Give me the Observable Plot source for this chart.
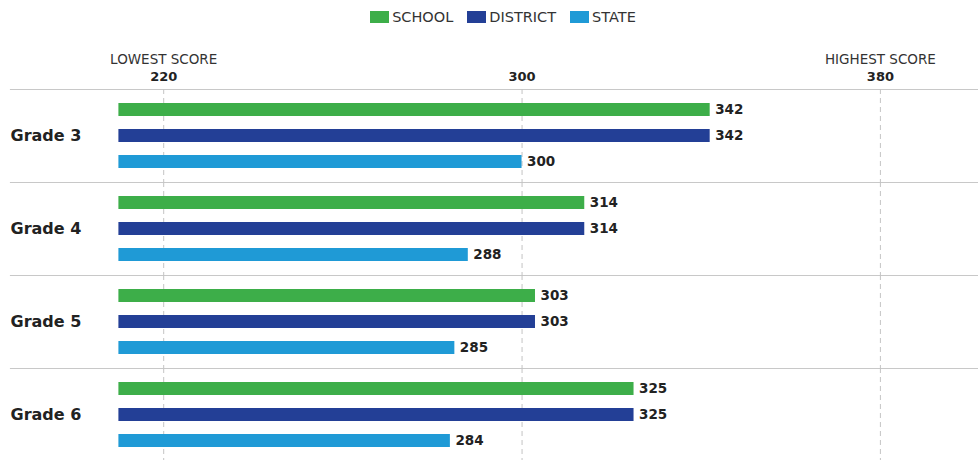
<!DOCTYPE html>
<html>
<head>
<meta charset="utf-8">
<script src="https://cdn.jsdelivr.net/npm/d3@7"></script>
<script src="https://cdn.jsdelivr.net/npm/@observablehq/plot@0.6"></script>
<style>
  html, body { margin: 0; padding: 0; background: #fff; overflow: hidden; }
  body { width: 978px; height: 460px; font-family: "DejaVu Sans", Verdana, sans-serif; }
  #legend { height: 34px; display: flex; justify-content: center; align-items: center; gap: 14px; padding-left: 28px; box-sizing: border-box; font-size: 14.5px; color: #333; }
  #legend .item { display: flex; align-items: center; gap: 3px; }
  #legend .sw { width: 19px; height: 12px; display: inline-block; }
  #chart svg { display: block; }
</style>
</head>
<body>
<div id="legend"></div>
<div id="chart"></div>
<script>
const grades = ["Grade 3", "Grade 4", "Grade 5", "Grade 6"];
const series = ["SCHOOL", "DISTRICT", "STATE"];
const colors = ["#3DAE49", "#233F96", "#1F9AD6"];
const school = [342, 314, 303, 325];
const district = [342, 314, 303, 325];
const state = [300, 288, 285, 284];
const tickValues = [220, 300, 380];
const tickNames = ["LOWEST SCORE", "", "HIGHEST SCORE"];
const baseScore = 210;

const values = [school, district, state];
const data = [];
grades.forEach((g, i) => series.forEach((s, j) => data.push({grade: g, series: s, value: values[j][i]})));

const legend = document.getElementById("legend");
series.forEach((s, j) => {
  const it = document.createElement("div");
  it.className = "item";
  it.innerHTML = `<span class="sw" style="background:${colors[j]}"></span><span>${s}</span>`;
  legend.appendChild(it);
});

const chart = Plot.plot({
  width: 978,
  height: 427,
  marginLeft: 10,
  marginRight: 0,
  marginTop: 55,
  marginBottom: 0,
  style: {fontFamily: "DejaVu Sans, Verdana, sans-serif", color: "#222", background: "#fff"},
  x: {domain: [185.8, 401.9]},
  y: {domain: series, padding: 0.51, axis: null},
  fy: {domain: grades, padding: 0, axis: null},
  color: {domain: series, range: colors},
  marks: [
    Plot.frame({anchor: "top", stroke: "#c8c8c8", strokeWidth: 1.2}),
    Plot.ruleX(tickValues, {stroke: "#c4c4c4", strokeDasharray: "5,4"}),
    Plot.barX(data, {fy: "grade", y: "series", x1: baseScore, x2: "value", fill: "series"}),
    Plot.text(data, {fy: "grade", y: "series", x: "value", text: d => String(d.value), textAnchor: "start", dx: 5, fontWeight: "bold", fontSize: 13.5, fill: "#222"}),
    Plot.text(grades, {fy: d => d, text: d => d, frameAnchor: "left", textAnchor: "start", fontWeight: "bold", fontSize: 16, fill: "#222"}),
    Plot.axisX({anchor: "top", ticks: tickValues, tickSize: 0, tickPadding: 9, fontWeight: "bold", fontSize: 13, tickFormat: d => String(d), label: null}),
    Plot.axisX({anchor: "top", ticks: tickValues, tickSize: 0, tickPadding: 26, fontSize: 13.5, fill: "#333", tickFormat: d => tickNames[tickValues.indexOf(d)], label: null})
  ]
});
document.getElementById("chart").appendChild(chart);
</script>
</body>
</html>
